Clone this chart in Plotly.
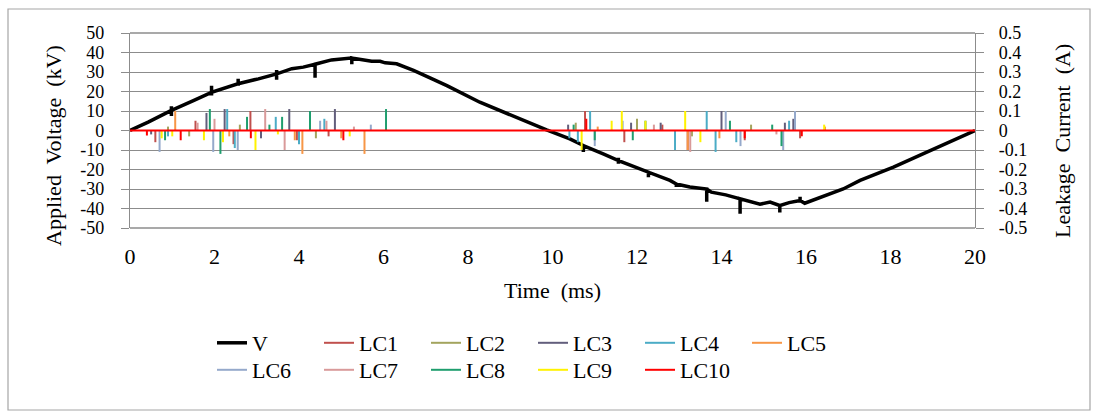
import plotly.graph_objects as go

# ---------------- data ----------------
V_TIME = [0, 0.43, 0.98, 0.98, 0.98, 0.98, 1.5, 1.93, 1.93, 1.93, 1.93, 2.56, 2.56, 2.56, 2.56,
          3.04, 3.3, 3.47, 3.47, 3.47, 3.47, 3.83, 4.1, 4.38, 4.38, 4.38, 4.77, 5.0,
          5.25, 5.25, 5.25, 5.25, 5.5, 5.72, 5.92, 6.04, 6.31, 6.71, 7.1, 7.5, 8.28, 9.07,
          9.86, 10.41, 10.73, 10.73, 10.73, 11.2, 11.56, 11.56, 11.56, 11.56, 12.27, 12.27,
          12.27, 12.78, 12.93, 12.93, 12.93, 13.25, 13.65, 13.65, 13.65, 13.76, 14.1, 14.44,
          14.44, 14.44, 14.91, 15.15, 15.38, 15.38, 15.38, 15.6, 15.86, 15.86, 15.86, 15.97,
          16.49, 16.88, 17.28, 18.07, 18.86, 19.64, 20]
V_KV = [0, 4.3, 10.3, 12.5, 7.5, 10.3, 15.3, 19.6, 23.0, 18.0, 19.6, 24.0, 26.5, 23.0, 24.0,
        26.5, 27.8, 29.0, 31.0, 26.0, 29.0, 31.7, 32.5, 34.0, 27.0, 34.0, 36.2, 36.5,
        37.2, 38.0, 34.0, 37.2, 36.3, 35.5, 35.5, 34.7, 34.2, 30.8, 27.0, 23.0, 14.5, 7.2,
        0.3, -4.3, -7.7, -11.0, -7.7, -12.0, -15.4, -14.0, -17.0, -15.4, -21.4, -24.0,
        -21.4, -25.6, -27.4, -29.0, -27.4, -29.0, -30.0, -36.6, -30.0, -31.6, -33.0, -35.0,
        -42.7, -35.0, -37.8, -36.7, -38.5, -42.0, -38.5, -37.0, -35.9, -34.0, -35.9, -37.3,
        -33.0, -30.0, -25.6, -18.8, -11.1, -3.4, 0]

LC1_T = [0.6, 1.55, 2.45, 2.85, 3.95, 4.7, 10.77, 11.7, 12.6, 13.2, 14.55, 15.86]
LC1_A = [-0.06, 0.05, -0.07, 0.1, -0.05, -0.03, 0.1, -0.06, 0.03, -0.1, -0.05, -0.04]
LC2_T = [0.9, 1.4, 2.6, 4.4, 10.55, 12.0, 13.3, 14.7]
LC2_A = [0.02, -0.03, 0.03, -0.04, 0.04, 0.06, -0.03, 0.03]
LC3_T = [0.5, 1.81, 2.24, 3.1, 3.77, 4.85, 10.37, 11.86, 12.56, 14.0, 15.5, 15.7]
LC3_A = [-0.02, 0.09, 0.11, -0.04, 0.11, 0.11, 0.03, 0.04, 0.04, 0.1, 0.04, 0.06]
LC4_T = [0.9, 2.3, 2.48, 3.45, 4.0, 4.6, 10.4, 10.6, 10.89, 12.9, 13.65, 13.86, 14.35, 15.6]
LC4_A = [-0.03, 0.11, -0.09, 0.07, -0.07, 0.06, -0.04, -0.06, 0.1, -0.1, 0.1, -0.11, -0.06, 0.05]
LC5_T = [1.07, 2.35, 3.9, 4.08, 5.0, 5.55, 11.07, 13.2, 13.95, 16.45]
LC5_A = [0.1, -0.03, -0.05, -0.12, -0.04, -0.12, 0.02, -0.1, -0.04, 0.02]
LC6_T = [0.7, 1.97, 2.55, 4.5, 5.7, 11.0, 11.66, 14.1, 14.45, 15.46, 15.74]
LC6_A = [-0.11, -0.11, -0.1, 0.05, 0.03, -0.08, 0.05, 0.1, -0.08, -0.1, 0.1]
LC7_T = [1.6, 2.0, 3.2, 3.66, 4.65, 5.3, 12.4, 13.26, 15.3]
LC7_A = [0.04, 0.06, 0.11, -0.1, 0.05, 0.02, 0.03, -0.11, -0.02]
LC8_T = [0.83, 1.89, 2.14, 2.77, 3.3, 3.6, 4.26, 6.06, 10.5, 11.0, 11.9, 12.2, 14.2, 15.2, 15.42]
LC8_A = [-0.05, 0.11, -0.12, 0.07, 0.03, 0.07, 0.1, 0.11, 0.03, -0.05, -0.05, 0.05, 0.05, 0.03, -0.08]
LC9_T = [0.75, 1.0, 1.75, 2.2, 2.97, 3.5, 5.2, 10.69, 11.4, 11.64, 12.2, 13.14, 13.5, 16.43]
LC9_A = [-0.04, -0.03, -0.05, -0.06, -0.1, -0.02, -0.03, -0.1, 0.05, 0.1, 0.05, 0.1, -0.06, 0.03]
LC10_T = [0.4, 1.2, 2.86, 5.05, 10.8, 14.55, 15.9]
LC10_A = [-0.025, -0.05, -0.04, -0.05, 0.06, -0.04, -0.03]

TIME_START, TIME_END = 0, 20
X_TICKS = [0, 2, 4, 6, 8, 10, 12, 14, 16, 18, 20]
V_TICKS = [-50, -40, -30, -20, -10, 0, 10, 20, 30, 40, 50]
V_TICK_TEXT = ["-50", "-40", "-30", "-20", "-10", "0", "10", "20", "30", "40", "50"]
I_TICKS = [-0.5, -0.4, -0.3, -0.2, -0.1, 0, 0.1, 0.2, 0.3, 0.4, 0.5]
I_TICK_TEXT = ["-0.5", "-0.4", "-0.3", "-0.2", "-0.1", "0", "0.1", "0.2", "0.3", "0.4", "0.5"]

SERIES = [
    ("LC1", LC1_T, LC1_A, "#C0504D"),
    ("LC2", LC2_T, LC2_A, "#A3A45E"),
    ("LC3", LC3_T, LC3_A, "#625E7C"),
    ("LC4", LC4_T, LC4_A, "#4BACC6"),
    ("LC5", LC5_T, LC5_A, "#F79646"),
    ("LC6", LC6_T, LC6_A, "#95A9CB"),
    ("LC7", LC7_T, LC7_A, "#D99A9A"),
    ("LC8", LC8_T, LC8_A, "#1F9E6E"),
    ("LC9", LC9_T, LC9_A, "#FFF200"),
    ("LC10", LC10_T, LC10_A, "#FF0000"),
]

# ---------------- geometry ----------------
W, H = 1094, 419
PL, PR, PT, PB = 130, 975, 33, 228
FONT = "Liberation Serif, Times New Roman, serif"
GRID = "#8C8C8C"


def px_x(p):
    return (p - PL) / (PR - PL)


def px_y(p):
    return (PB - p) / (PB - PT)


def spikes(ts, amps, baseline):
    pairs = sorted(zip(ts, amps))
    xs, ys = [], []
    if baseline:
        xs.append(TIME_START)
        ys.append(0)
        for t, a in pairs:
            xs += [t, t, t]
            ys += [0, a, 0]
        xs.append(TIME_END)
        ys.append(0)
    else:
        for t, a in pairs:
            xs += [t, t, None]
            ys += [0, a, None]
    return xs, ys


fig = go.Figure()
for i, (name, ts, amps, col) in enumerate(SERIES):
    xs, ys = spikes(ts, amps, baseline=(name == "LC10"))
    fig.add_trace(go.Scatter(
        x=xs, y=ys, mode="lines", name=name, yaxis="y2",
        line=dict(color=col, width=2), connectgaps=False,
        legend="legend" if i < 5 else "legend2", legendrank=i + 2,
    ))

fig.add_trace(go.Scatter(
    x=V_TIME, y=V_KV, mode="lines", name="V",
    line=dict(color="black", width=3.5), legend="legend", legendrank=1,
))

fig.update_layout(
    width=W, height=H,
    template="none",
    paper_bgcolor="white", plot_bgcolor="white",
    margin=dict(l=PL, r=W - PR, t=PT, b=H - PB, autoexpand=False),
    font=dict(family=FONT, size=22, color="black"),
    showlegend=True,
    xaxis=dict(range=[TIME_START, TIME_END], tickvals=X_TICKS, ticktext=[str(v) for v in X_TICKS],
               showgrid=False, zeroline=False, showline=False, ticks="",
               tickfont=dict(size=22), ticklabelstandoff=13),
    yaxis=dict(range=[-50, 50], tickvals=V_TICKS, ticktext=V_TICK_TEXT,
               showgrid=True, gridcolor=GRID, gridwidth=1.3, zeroline=False,
               showline=True, linecolor=GRID, linewidth=1.3,
               ticks="outside", ticklen=8, tickcolor=GRID, tickwidth=1.3,
               tickfont=dict(size=18), ticklabelstandoff=13),
    yaxis2=dict(range=[-0.5, 0.5], tickvals=I_TICKS, ticktext=I_TICK_TEXT,
                overlaying="y", side="right", showgrid=False, zeroline=False,
                showline=True, linecolor=GRID, linewidth=1.3,
                ticks="outside", ticklen=8, tickcolor=GRID, tickwidth=1.3,
                tickfont=dict(size=18), ticklabelstandoff=11),
    legend=dict(orientation="h", x=px_x(212), y=px_y(343), xanchor="left", yanchor="middle",
                font=dict(size=22), entrywidth=62, entrywidthmode="pixels",
                bgcolor="rgba(0,0,0,0)", borderwidth=0, itemwidth=30),
    legend2=dict(orientation="h", x=px_x(212), y=px_y(370), xanchor="left", yanchor="middle",
                 font=dict(size=22), entrywidth=62, entrywidthmode="pixels",
                 bgcolor="rgba(0,0,0,0)", borderwidth=0, itemwidth=30),
    shapes=[
        dict(type="line", xref="paper", yref="paper", x0=0, x1=1, y0=1, y1=1,
             line=dict(color=GRID, width=1.3)),
        dict(type="line", xref="paper", yref="paper", x0=0, x1=1, y0=0, y1=0,
             line=dict(color=GRID, width=1.3)),
        dict(type="rect", xref="paper", yref="paper",
             x0=px_x(8), x1=px_x(1090), y0=px_y(410), y1=px_y(9),
             line=dict(color="#A6A6A6", width=1.2), fillcolor="rgba(0,0,0,0)", layer="below"),
    ],
    annotations=[
        dict(text="Applied  Voltage  (kV)", xref="paper", yref="paper", x=px_x(53), y=px_y(146),
             textangle=-90, showarrow=False, xanchor="center", yanchor="middle",
             font=dict(size=22)),
        dict(text="Leakage  Current  (A)", xref="paper", yref="paper", x=px_x(1062), y=px_y(141),
             textangle=-90, showarrow=False, xanchor="center", yanchor="middle",
             font=dict(size=22)),
        dict(text="Time  (ms)", xref="paper", yref="paper", x=px_x(552), y=px_y(290),
             showarrow=False, xanchor="center", yanchor="middle", font=dict(size=22)),
    ],
)

fig.write_html("out.html")
